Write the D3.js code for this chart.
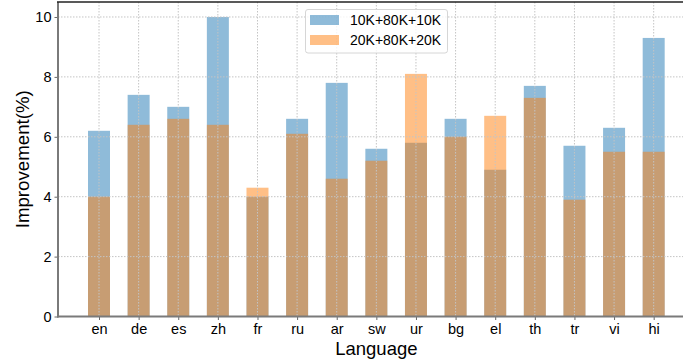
<!DOCTYPE html>
<html>
<head>
<meta charset="utf-8">
<script src="https://cdn.jsdelivr.net/npm/d3@7"></script>
<style>
  html, body { margin: 0; padding: 0; background: #fff; }
  svg text { font-family: "Liberation Sans", Arial, sans-serif; fill: #000; }
</style>
</head>
<body>
<svg id="chart" width="683" height="362"></svg>
<script>
// Languages and improvement (%) for two split settings
const languages = ["en", "de", "es", "zh", "fr", "ru", "ar", "sw", "ur", "bg", "el", "th", "tr", "vi", "hi"];
const seriesA = [6.2, 7.4, 7.0, 10.0, 4.0, 6.6, 7.8, 5.6, 5.8, 6.6, 4.9, 7.7, 5.7, 6.3, 9.3];
const seriesB = [4.0, 6.4, 6.6, 6.4, 4.3, 6.1, 4.6, 5.2, 8.1, 6.0, 6.7, 7.3, 3.9, 5.5, 5.5];
const seriesNames = ["10K+80K+10K", "20K+80K+20K"];
const yTicks = [0, 2, 4, 6, 8, 10];

const colors = ["rgba(31,119,180,0.5)", "rgba(255,127,14,0.5)"];
const barWidth = 0.555;

const svg = d3.select("#chart");
const plotLeft = 58, plotTop = 2, plotBottom = 316.5;
const pad = 1.035;
const plotRight = plotLeft + (languages.length - 1 + 2 * pad) * 39.62;

const x = d3.scaleLinear().domain([-pad, languages.length - 1 + pad]).range([plotLeft, plotRight]);
const y = d3.scaleLinear().domain([0, 10.5]).range([plotBottom, plotTop]);

// Bars: first series, then second drawn on top
[seriesA, seriesB].forEach((vals, si) => {
  svg.append("g").selectAll("rect").data(vals).join("rect")
    .attr("x", (d, i) => x(i - barWidth / 2))
    .attr("width", (d, i) => x(i + barWidth / 2) - x(i - barWidth / 2))
    .attr("y", d => y(d))
    .attr("height", d => y(0) - y(d))
    .attr("fill", colors[si]);
});

// Dotted grid
const grid = svg.append("g").attr("stroke", "#c4c4c4").attr("stroke-width", 1).attr("stroke-dasharray", "1.5,1.5");
grid.selectAll("line.h").data(yTicks).join("line").attr("class", "h")
  .attr("x1", plotLeft).attr("x2", plotRight)
  .attr("y1", d => y(d)).attr("y2", d => y(d));
grid.selectAll("line.v").data(languages).join("line").attr("class", "v")
  .attr("x1", (d, i) => x(i)).attr("x2", (d, i) => x(i))
  .attr("y1", plotTop).attr("y2", plotBottom);

// Axes
const xAxis = d3.axisBottom(x).tickValues(d3.range(languages.length))
  .tickFormat(i => languages[i]).tickSize(3.5).tickPadding(3.5);
const gx = svg.append("g").attr("transform", `translate(0,${plotBottom})`).call(xAxis);
gx.select(".domain").remove();
gx.selectAll(".tick line").attr("stroke", "#666").attr("stroke-width", 1);
gx.selectAll(".tick text").attr("font-size", 14.5).attr("font-family", "Liberation Sans, Arial, sans-serif");

const yAxis = d3.axisLeft(y).tickValues(yTicks).tickSize(3.5).tickPadding(3);
const gy = svg.append("g").attr("transform", `translate(${plotLeft},0)`).call(yAxis);
gy.select(".domain").remove();
gy.selectAll(".tick line").attr("stroke", "#666").attr("stroke-width", 1);
gy.selectAll(".tick text").attr("font-size", 14.5).attr("font-family", "Liberation Sans, Arial, sans-serif");

// Spines
svg.append("line").attr("x1", plotLeft).attr("x2", plotLeft).attr("y1", plotTop).attr("y2", plotBottom + 1)
  .attr("stroke", "#7a7a7a").attr("stroke-width", 2);
svg.append("line").attr("x1", plotLeft - 1).attr("x2", plotRight).attr("y1", plotBottom).attr("y2", plotBottom)
  .attr("stroke", "#7a7a7a").attr("stroke-width", 2);
svg.append("line").attr("x1", plotLeft - 1).attr("x2", plotRight).attr("y1", plotTop).attr("y2", plotTop)
  .attr("stroke", "#222").attr("stroke-width", 1.5);
svg.append("line").attr("x1", plotRight).attr("x2", plotRight).attr("y1", plotTop).attr("y2", plotBottom)
  .attr("stroke", "#222").attr("stroke-width", 1.5);

// Axis titles
svg.append("text").attr("x", (plotLeft + plotRight) / 2).attr("y", 354.5)
  .attr("text-anchor", "middle").attr("font-size", 18.5).text("Language");
svg.append("text").attr("transform", `translate(29,${(plotTop + plotBottom) / 2}) rotate(-90)`)
  .attr("text-anchor", "middle").attr("font-size", 18.7).text("Improvement(%)");

// Legend
const lg = svg.append("g");
lg.append("rect").attr("x", 305.5).attr("y", 9.5).attr("width", 142).attr("height", 43.5)
  .attr("rx", 2.5).attr("fill", "rgba(255,255,255,0.8)").attr("stroke", "#d6d6d6");
seriesNames.forEach((name, i) => {
  lg.append("rect").attr("x", 310).attr("y", 15 + i * 20).attr("width", 29).attr("height", 10)
    .attr("fill", colors[i]);
  lg.append("text").attr("x", 350).attr("y", 25 + i * 20).attr("font-size", 14).text(name);
});
</script>
</body>
</html>
